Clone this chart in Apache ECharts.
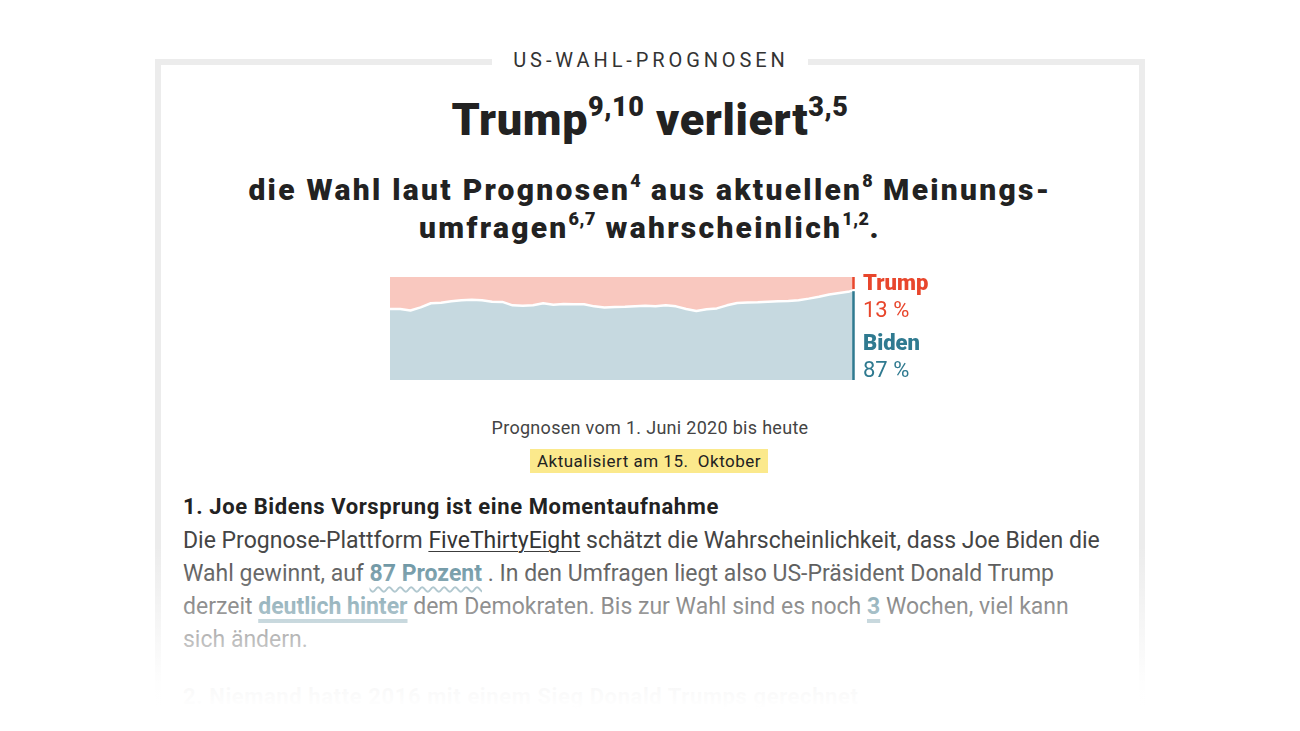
<!DOCTYPE html>
<html>
<head>
<meta charset="utf-8">
<script src="https://cdn.jsdelivr.net/npm/echarts@6/dist/echarts.min.js"></script>
<style>
  html, body { margin: 0; padding: 0; background: #fff; }
  body { width: 1300px; height: 731px; position: relative; overflow: hidden; font-family: Roboto, "Noto Sans", sans-serif; color: #222; }
  .box { position: absolute; left: 155px; top: 59px; width: 978px; height: 800px; border: 6px solid #ececec; }
  .kicker { position: absolute; left: 0; width: 1300px; top: 47px; text-align: center; }
  .kicker span { background: #fff; padding: 0 19px 0 21px; font-size: 20px; letter-spacing: 3.9px; color: #333; line-height: 26px; }
  .h1 { position: absolute; left: 0; width: 1300px; top: 94px; text-align: center; font-weight: 900; font-size: 45px; letter-spacing: 0.6px; line-height: 52px; color: #222; }
  .h2 { position: absolute; left: 0; width: 1300px; top: 171px; text-align: center; font-weight: 900; font-size: 30px; letter-spacing: 2.3px; line-height: 38px; color: #222; }
  sup { font-size: 0.6em; vertical-align: 0; position: relative; top: -0.72em; line-height: 0; letter-spacing: 0.5px; }
  #chart { position: absolute; left: 380px; top: 265px; width: 600px; height: 130px; }
  .cap { position: absolute; left: 0; width: 1300px; top: 417px; text-align: center; font-size: 18px; letter-spacing: 0.3px; color: #444; line-height: 22px; }
  .upd { position: absolute; left: 530px; top: 449px; width: 238px; height: 24px; background: #fbe98c; text-align: center; font-size: 17px; letter-spacing: 0.5px; line-height: 24px; color: #222; }
  .sec { position: absolute; left: 183px; font-weight: 700; font-size: 22px; letter-spacing: 0.6px; color: #222; line-height: 26px; white-space: nowrap; }
  .p { position: absolute; left: 183px; top: 524px; font-size: 23px; line-height: 33px; color: #444; white-space: nowrap; }
  .p a { color: #333; text-decoration: underline; text-underline-offset: 3px; text-decoration-thickness: 1px; }
  .em { font-weight: 700; color: #5c8a99; text-decoration-line: underline; text-decoration-color: #8fb0bb; text-underline-offset: 5px; }
  .wavy { text-decoration-style: wavy; text-decoration-thickness: 2px; }
  .thick { text-decoration-thickness: 4px; }
  .fade { position: absolute; left: 0; width: 1300px; top: 545px; height: 186px;
          background: linear-gradient(to bottom, rgba(255,255,255,0) 0%, rgba(255,255,255,0.6) 48%, rgba(255,255,255,0.97) 76%, #fff 88%); }
</style>
</head>
<body>
<div class="box"></div>
<div class="kicker"><span>US-WAHL-PROGNOSEN</span></div>
<div class="h1">Trump<sup>9,10</sup> verliert<sup>3,5</sup></div>
<div class="h2">die Wahl laut Prognosen<sup>4</sup> aus aktuellen<sup>8</sup> Meinungs-<br>umfragen<sup>6,7</sup> wahrscheinlich<sup>1,2</sup>.</div>
<div id="chart"></div>
<div class="cap">Prognosen vom 1. Juni 2020 bis heute</div>
<div class="upd">Aktualisiert am 15.&nbsp; Oktober</div>
<div class="sec" style="top:494px">1. Joe Bidens Vorsprung ist eine Momentaufnahme</div>
<div class="p">
Die Prognose-Plattform <a>FiveThirtyEight</a> schätzt die Wahrscheinlichkeit, dass Joe Biden die<br>
Wahl gewinnt, auf <span class="em wavy">87 Prozent</span> . In den Umfragen liegt also US-Präsident Donald Trump<br>
derzeit <span class="em thick">deutlich hinter</span> dem Demokraten. Bis zur Wahl sind es noch <span class="em thick">3</span> Wochen, viel kann<br>
sich ändern.
</div>
<div class="sec" style="top:684px">2. Niemand hatte 2016 mit einem Sieg Donald Trumps gerechnet</div>
<div class="fade"></div>

<script>
// Gewinnwahrscheinlichkeit laut FiveThirtyEight, 1. Juni bis 15. Oktober 2020
var dates = ['2020-06-01', '2020-06-04', '2020-06-07', '2020-06-10', '2020-06-13', '2020-06-16',
	'2020-06-19', '2020-06-22', '2020-06-25', '2020-06-28', '2020-07-01', '2020-07-04',
	'2020-07-07', '2020-07-10', '2020-07-13', '2020-07-16', '2020-07-19', '2020-07-22',
	'2020-07-25', '2020-07-28', '2020-07-31', '2020-08-03', '2020-08-06', '2020-08-09',
	'2020-08-12', '2020-08-15', '2020-08-18', '2020-08-21', '2020-08-24', '2020-08-27',
	'2020-08-30', '2020-09-02', '2020-09-05', '2020-09-08', '2020-09-11', '2020-09-14',
	'2020-09-17', '2020-09-20', '2020-09-23', '2020-09-26', '2020-09-29', '2020-10-02',
	'2020-10-05', '2020-10-08', '2020-10-11', '2020-10-14', '2020-10-15'];
var biden = [69, 69, 67.5, 70.5, 74.5, 75, 76.5, 77.5, 77.8, 77.5, 76, 75.8,
	72.5, 72, 72.5, 74.5, 73, 73.8, 73.5, 73.5, 71.5, 70.5, 70.8, 71,
	71.5, 72, 71.5, 72.5, 71.5, 69, 67, 68.6, 69.5, 72.5, 74.8, 75.2,
	75.5, 76, 76.5, 76.7, 77.5, 79, 80.8, 83, 84.5, 86, 87];
var trump = [31, 31, 32.5, 29.5, 25.5, 25, 23.5, 22.5, 22.2, 22.5, 24, 24.2,
	27.5, 28, 27.5, 25.5, 27, 26.2, 26.5, 26.5, 28.5, 29.5, 29.2, 29,
	28.5, 28, 28.5, 27.5, 28.5, 31, 33, 31.4, 30.5, 27.5, 25.2, 24.8,
	24.5, 24, 23.5, 23.3, 22.5, 21, 19.2, 17, 15.5, 14, 13];

var RED = '#e8462c';
var BLUE = '#2f7a90';

var pair = function(arr) {
	var out = [];
	for(var i = 0; i < dates.length; i++) {
		out.push([dates[i], arr[i]]);
	}
	return out;
};
var last = dates[dates.length - 1];
var bLast = biden[biden.length - 1];
var tLast = trump[trump.length - 1];

var myChart = echarts.init(document.getElementById('chart'));
myChart.setOption({
	animation: false,
	grid: { left: 10, top: 12, width: 463, height: 103 },
	xAxis: { type: 'time', show: false, min: dates[0], max: last },
	yAxis: { type: 'value', show: false, min: 0, max: 100 },
	series: [{
		name: 'Biden',
		type: 'line',
		stack: 'p',
		symbol: 'none',
		data: pair(biden),
		lineStyle: { color: '#fff', width: 2.5 },
		areaStyle: { color: '#c6d9e0', opacity: 1 },
		z: 3,
		markLine: {
			symbol: 'none',
			silent: true,
			label: { show: false },
			data: [
				[{ coord: [last, 0], lineStyle: { color: BLUE, width: 2.5, type: 'solid' } }, { coord: [last, bLast - 0.8] }],
				[{ coord: [last, bLast + 1.3], lineStyle: { color: RED, width: 2.5, type: 'solid' } }, { coord: [last, 100] }]
			]
		}
	}, {
		name: 'Trump',
		type: 'line',
		stack: 'p',
		symbol: 'none',
		data: pair(trump),
		lineStyle: { width: 0 },
		areaStyle: { color: '#f9c8bf', opacity: 1 },
		z: 2
	}]
});

var px = myChart.convertToPixel({ gridIndex: 0 }, [last, 100]);
var lx = px[0] + 10;
var top0 = px[1];
myChart.setOption({
	graphic: [
		{ type: 'text', left: lx, top: top0 - 4, style: { text: 'Trump', fill: RED, font: '900 22px Roboto' } },
		{ type: 'text', left: lx, top: top0 + 23, style: { text: tLast + ' %', fill: RED, font: '22px Roboto' } },
		{ type: 'text', left: lx, top: top0 + 56, style: { text: 'Biden', fill: BLUE, font: '900 22px Roboto' } },
		{ type: 'text', left: lx, top: top0 + 83, style: { text: bLast + ' %', fill: BLUE, font: '22px Roboto' } }
	]
});
</script>
</body>
</html>
